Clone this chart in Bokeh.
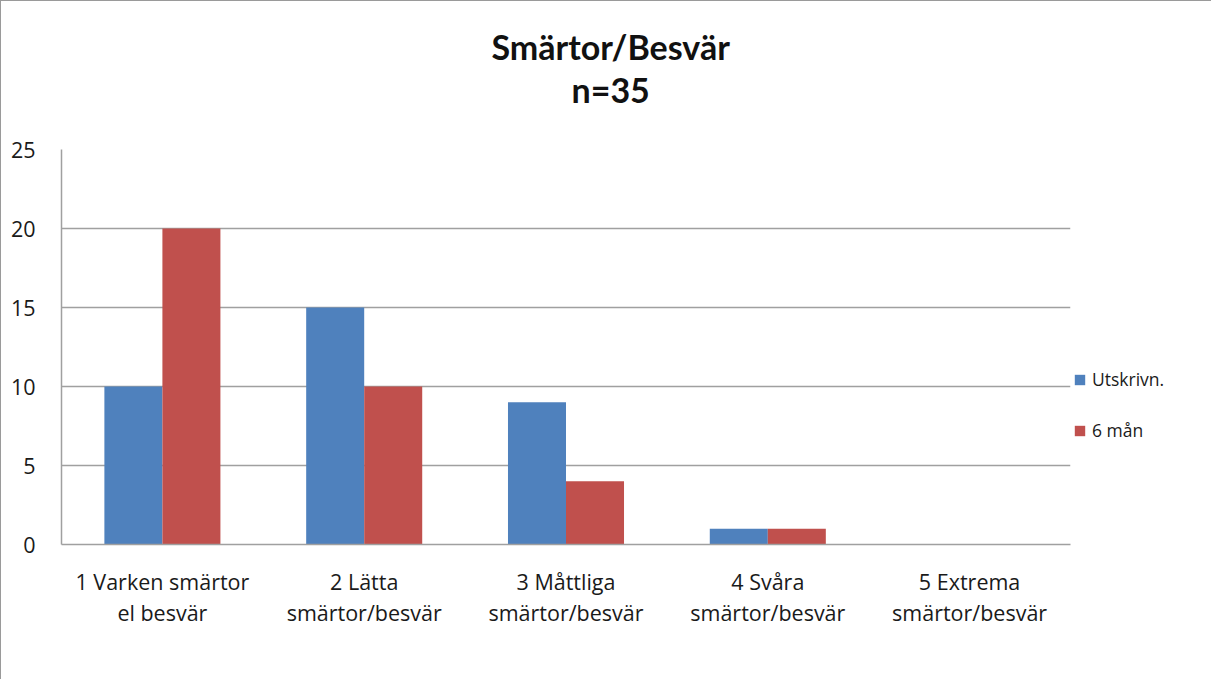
from bokeh.plotting import figure
from bokeh.models import ColumnDataSource, Range1d, FactorRange, Legend, LegendItem, Title
from bokeh.transform import dodge
from bokeh.embed import file_html
from bokeh.resources import INLINE

categories = ["1 Varken smärtor\nel besvär", "2 Lätta\nsmärtor/besvär", "3 Måttliga\nsmärtor/besvär",
              "4 Svåra\nsmärtor/besvär", "5 Extrema\nsmärtor/besvär"]
utskrivn = [10, 15, 9, 1, 0]
sex_man = [20, 10, 4, 1, 0]
series_names = ["Utskrivn.", "6 mån"]
title_lines = ["Smärtor/Besvär", "n=35"]
y_ticks = [0, 5, 10, 15, 20, 25]

BLUE = "#4F81BD"
RED = "#C0504D"
FONT = "Open Sans"
TFONT = "Lato"

src = ColumnDataSource(dict(cat=categories, a=utskrivn, b=sex_man))

p = figure(frame_width=1009, frame_height=395, x_range=FactorRange(*categories, range_padding=0),
           y_range=Range1d(0, 25), output_backend="svg", toolbar_location=None,
           min_border_left=60, min_border_right=139, min_border_top=148, min_border_bottom=135)
p.styles = {"border-left": "1px solid #9a9a9a", "border-top": "1px solid #9a9a9a"}
p.outline_line_color = None
p.background_fill_color = "white"
p.border_fill_color = "white"

w = 0.2875
r1 = p.vbar(x=dodge("cat", -w / 2, range=p.x_range), top="a", width=w, source=src,
            fill_color=BLUE, line_color=None)
r2 = p.vbar(x=dodge("cat", w / 2, range=p.x_range), top="b", width=w, source=src,
            fill_color=RED, line_color=None)

p.xgrid.grid_line_color = None
p.ygrid.grid_line_color = "#a0a0a0"
p.ygrid.grid_line_width = 1.5
p.yaxis.ticker = y_ticks

for ax in (p.xaxis[0], p.yaxis[0]):
    ax.axis_line_color = "#a0a0a0"
    ax.axis_line_width = 1.5
    ax.major_tick_in = 0
    ax.major_tick_out = 0
    ax.minor_tick_in = 0
    ax.minor_tick_out = 0
    ax.major_label_text_font = FONT
    ax.major_label_text_font_size = "21.5px"
    ax.major_label_text_color = "#1a1a1a"

p.yaxis.major_label_standoff = 26
p.xaxis.major_label_standoff = 22
p.xaxis.major_label_text_line_height = 1.1

legend = Legend(items=[LegendItem(label=series_names[0], renderers=[r1]),
                       LegendItem(label=series_names[1], renderers=[r2])],
                location=(3, 102), padding=0, margin=0, spacing=27,
                glyph_width=13, glyph_height=13, label_standoff=6, label_height=20,
                label_text_font=FONT, label_text_font_size="17.5px", label_text_color="#1a1a1a",
                border_line_color=None, background_fill_alpha=0)
p.add_layout(legend, "right")

# spacer between the plot area and the two-line title
p.add_layout(Title(text=" ", text_font_size="34px", standoff=0), "above")
p.add_layout(Title(text=title_lines[1], align="left", offset=510, text_font=TFONT,
                   text_font_style="bold", text_font_size="34px", text_color="#111111",
                   standoff=0), "above")
p.add_layout(Title(text=title_lines[0], align="left", offset=430, text_font=TFONT,
                   text_font_style="bold", text_font_size="34px", text_color="#111111",
                   standoff=0), "above")

open("out.html", "w").write(file_html(p, INLINE))
